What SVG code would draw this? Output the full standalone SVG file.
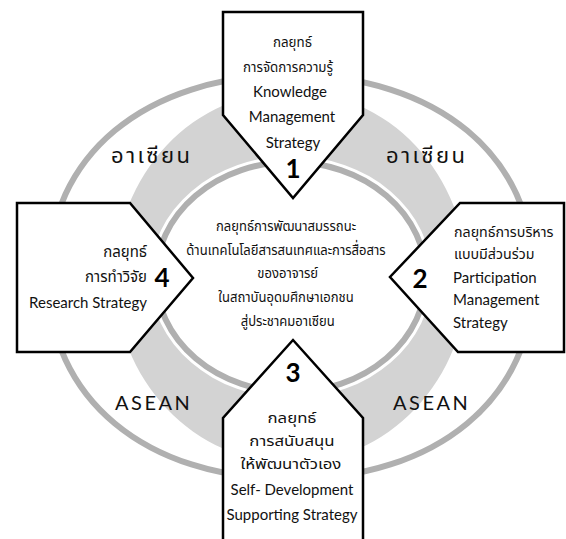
<svg xmlns="http://www.w3.org/2000/svg" width="566" height="539" viewBox="0 0 566 539">
<style>
.ring{fill:none;stroke:#b0b0b0;stroke-width:6}
.band{fill:#d3d3d3;fill-rule:evenodd}
.box{fill:#fff;stroke:#000;stroke-width:2.5;stroke-linejoin:miter}
.th{font-family:"Noto Sans Thai","Tahoma","Noto Sans",sans-serif;font-size:15px;fill:#111}
.en{font-family:"Lato","Liberation Sans",sans-serif;font-size:15px;fill:#111}
.c{text-anchor:middle}
.r{text-anchor:end}
.num{font-family:"Lato","Liberation Sans",sans-serif;font-weight:bold;font-size:26px;fill:#000;text-anchor:middle}
.lab{font-family:"Noto Sans Thai","Noto Sans",sans-serif;font-size:22px;fill:#111;letter-spacing:2.5px}
.asean{font-family:"Lato","Liberation Sans",sans-serif;font-size:20px;fill:#111;letter-spacing:2.5px}
</style>
<rect width="566" height="539" fill="#fff"/>
<g id="rings">
<path class="ring" d="M534,277 C534,398.2 436.8,479 291,479 C145.2,479 48,398.2 48,277 C48,155.8 145.2,75 291,75 C436.8,75 534,155.8 534,277 Z"/>
<path class="band" d="M115,277 a176,186 0 1,0 352,0 a176,186 0 1,0 -352,0 Z M150,277 a141,121 0 1,0 282,0 a141,121 0 1,0 -282,0 Z"/>
<ellipse class="ring" cx="291" cy="277" rx="135" ry="115"/>
</g>
<g id="connectors"></g>
<g id="node1">
<polygon class="box" points="223,12 363,12 363,115 293,198 223,115"/>
<g transform="translate(288,0) scale(0.89,1)">
<text class="th c" x="5" y="47">กลยุทธ์</text>
<text class="th c" x="0" y="72">การจัดการความรู้</text>
</g>
<text class="en c" x="290" y="97">Knowledge</text>
<text class="en c" x="292" y="122">Management</text>
<text class="en c" x="293" y="148">Strategy</text>
<text class="num" x="293" y="178">1</text>
</g>
<g id="node4">
<polygon class="box" points="17,203 130,203 193,278 130,352 17,352"/>
<text class="th r" x="147" y="257">กลยุทธ์</text>
<text class="th r" x="147" y="282">การทำวิจัย</text>
<text class="en r" x="147" y="308">Research Strategy</text>
<text class="num" x="162" y="287">4</text>
</g>
<g id="node2">
<polygon class="box" points="460,203 564,203 564,352 458,352 390,277"/>
<g transform="translate(454,0) scale(0.95,1)">
<text class="th" x="0" y="237">กลยุทธ์การบริหาร</text>
<text class="th" x="0" y="259">แบบมีส่วนร่วม</text>
</g>
<text class="en" x="453" y="283">Participation</text>
<text class="en" x="453" y="305">Management</text>
<text class="en" x="453" y="328">Strategy</text>
<text class="num" x="420" y="288">2</text>
</g>
<g id="node3">
<polygon class="box" points="293,340 363,418 363,545 223,545 223,418"/>
<text class="num" x="293" y="382">3</text>
<g transform="translate(292,0) scale(1.12,1)">
<text class="th c" x="0" y="423">กลยุทธ์</text>
<text class="th c" x="0" y="446">การสนับสนุน</text>
<text class="th c" x="-1" y="469">ให้พัฒนาตัวเอง</text>
</g>
<text class="en c" x="292" y="495">Self- Development</text>
<text class="en c" x="292" y="520">Supporting Strategy</text>
</g>
<g id="center">
<g transform="translate(286,0) scale(0.87,1)">
<text class="th c" x="0" y="231">กลยุทธ์การพัฒนาสมรรถนะ</text>
<text class="th c" x="0" y="255">ด้านเทคโนโลยีสารสนเทศและการสื่อสาร</text>
<text class="th c" x="2" y="278">ของอาจารย์</text>
<text class="th c" x="0" y="302">ในสถาบันอุดมศึกษาเอกชน</text>
<text class="th c" x="2" y="326">สู่ประชาคมอาเซียน</text>
</g>
</g>
<g id="labels">
<text class="lab" x="111" y="163">อาเซียน</text>
<text class="lab" x="386" y="163">อาเซียน</text>
<text class="asean" x="115" y="410">ASEAN</text>
<text class="asean" x="393" y="410">ASEAN</text>
</g>
</svg>
